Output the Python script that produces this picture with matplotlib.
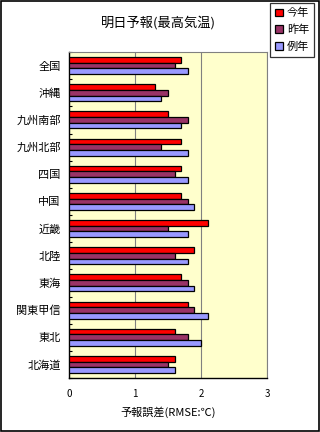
import matplotlib.pyplot as plt
from matplotlib.patches import Rectangle
import numpy as np

plt.rcParams['font.family'] = ['Noto Sans CJK JP', 'DejaVu Sans']

# データ（上から順）
regions = ['全国', '沖縄', '九州南部', '九州北部', '四国', '中国',
           '近畿', '北陸', '東海', '関東甲信', '東北', '北海道']
this_year = [1.7, 1.3, 1.5, 1.7, 1.7, 1.7, 2.1, 1.9, 1.7, 1.8, 1.6, 1.6]
last_year = [1.6, 1.5, 1.8, 1.4, 1.6, 1.8, 1.5, 1.6, 1.8, 1.9, 1.8, 1.5]
normal = [1.8, 1.4, 1.7, 1.8, 1.8, 1.9, 1.8, 1.8, 1.9, 2.1, 2.0, 1.6]
series_names = ['今年', '昨年', '例年']
colors = ['#FF0000', '#993366', '#9999FF']
x_ticks = [0, 1, 2, 3]

fig = plt.figure(figsize=(3.2, 4.32), dpi=100)
ax = fig.add_axes([69 / 320, 1 - 378 / 432, 198 / 320, 326 / 432])
ax.set_facecolor('#FFFFCC')

y = np.arange(len(regions))
h = 0.21
for k, vals in enumerate([this_year, last_year, normal]):
    ax.barh(y + (k - 1) * h, vals, height=h, color=colors[k],
            edgecolor='black', linewidth=0.9, label=series_names[k], zorder=3)

ax.set_xlim(0, 3)
ax.set_ylim(len(regions) - 0.5, -0.5)
ax.set_xticks(x_ticks)
ax.set_xticklabels([str(t) for t in x_ticks], fontsize=7)
ax.xaxis.grid(True, color='#808080', linewidth=0.8, zorder=0)
ax.tick_params(axis='x', length=0, pad=8)

# 目盛り（カテゴリ境界）
ax.set_yticks(y)
ax.set_yticklabels(regions, fontsize=8)
ax.tick_params(axis='y', length=0, pad=6)
ax.set_yticks(np.arange(len(regions) + 1) - 0.5, minor=True)
ax.tick_params(axis='y', which='minor', direction='in', length=2.5, width=0.8)

for s in ['left', 'bottom']:
    ax.spines[s].set_color('black')
    ax.spines[s].set_linewidth(1.0)
for s in ['top', 'right']:
    ax.spines[s].set_color('#808080')
    ax.spines[s].set_linewidth(0.8)

ax.set_xlabel('予報誤差(RMSE:℃)', fontsize=8, labelpad=5)
fig.text(158 / 320, 1 - 23 / 432, '明日予報(最高気温)', fontsize=9.5,
         ha='center', va='center')

leg = fig.legend(loc='upper right', bbox_to_anchor=(314 / 320, 1 - 3 / 432),
                 fontsize=8, frameon=True, fancybox=False, edgecolor='black',
                 handlelength=0.7, handleheight=0.7, handletextpad=0.35,
                 borderpad=0.45, labelspacing=0.55, borderaxespad=0)
leg.get_frame().set_linewidth(0.9)

# 外枠
fig.patches.append(Rectangle((0.002, 0.002), 0.995, 0.995, transform=fig.transFigure,
                             fill=False, edgecolor='black', linewidth=1.2))

fig.savefig('out.png', dpi=100)
